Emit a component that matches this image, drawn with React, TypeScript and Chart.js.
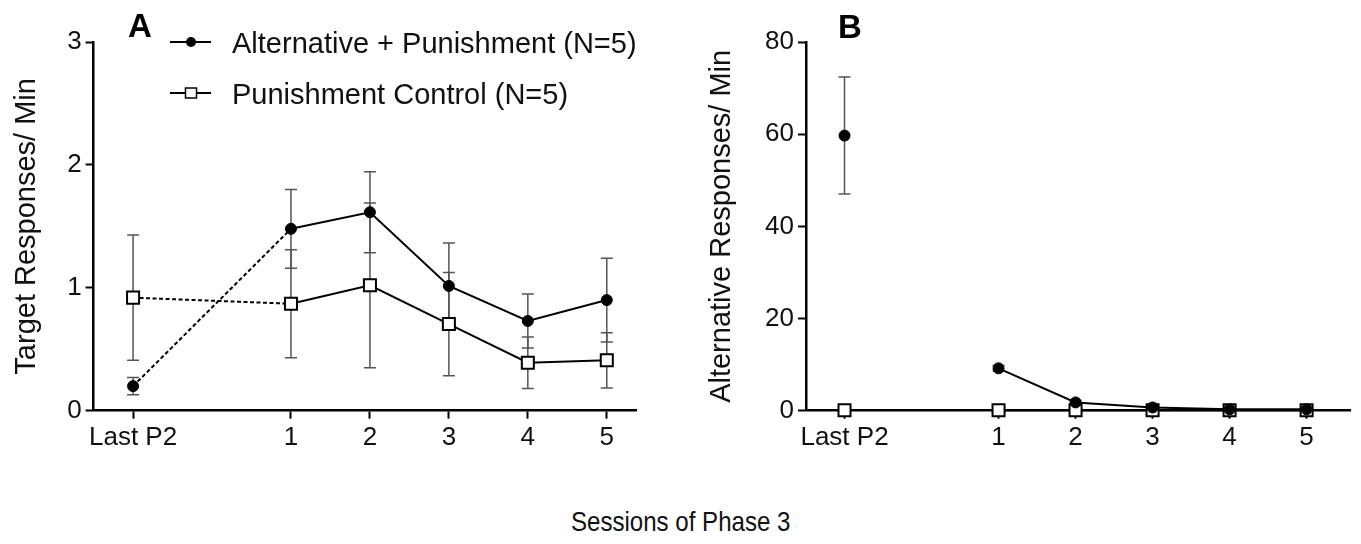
import React, { useEffect, useRef } from "react";
import { Chart, registerables } from "chart.js";

Chart.register(...registerables);

// ---- data ----
const sessions = ["Last P2", "1", "2", "3", "4", "5"];
const sessionX = [-1, 1, 2, 3, 4, 5];

const seriesNames = ["Alternative + Punishment (N=5)", "Punishment Control (N=5)"];

// Panel A: target responses / min (mean, SEM)
const targetAltPun = [0.2, 1.48, 1.615, 1.015, 0.73, 0.9];
const targetAltPunSem = [0.07, 0.32, 0.33, 0.35, 0.22, 0.34];
const targetPunCtrl = [0.92, 0.87, 1.02, 0.705, 0.39, 0.41];
const targetPunCtrlSem = [0.51, 0.44, 0.67, 0.42, 0.21, 0.225];

// Panel B: alternative responses / min (mean, SEM)
const altAltPun = [59.7, 9.2, 1.8, 0.7, 0.3, 0.3];
const altAltPunSem = [12.7, 0.6, 0.4, 0.3, 0.2, 0.2];
const altPunCtrl = [0.1, 0.1, 0.1, 0.1, 0.1, 0.1];
const altPunCtrlSem = [0.9, 0.9, 0.9, 0.9, 0.9, 0.9];

const FONT = '"Liberation Sans", Arial, Helvetica, sans-serif';

function pts(vals: number[]) {
  return sessionX.map((x, i) => ({ x, y: vals[i] }));
}

const errorBarPlugin = {
  id: "errorBars",
  beforeDatasetsDraw(chart: any) {
    const { ctx } = chart;
    const xs = chart.scales.x;
    const ys = chart.scales.y;
    ctx.save();
    ctx.strokeStyle = "#555";
    ctx.lineWidth = 1.5;
    chart.data.datasets.forEach((ds: any) => {
      if (!ds.sem) return;
      ds.data.forEach((p: any, i: number) => {
        const x = xs.getPixelForValue(p.x);
        const yt = ys.getPixelForValue(p.y + ds.sem[i]);
        const yb = ys.getPixelForValue(p.y - ds.sem[i]);
        ctx.beginPath();
        ctx.moveTo(x, yt);
        ctx.lineTo(x, yb);
        ctx.moveTo(x - 6, yt);
        ctx.lineTo(x + 6, yt);
        ctx.moveTo(x - 6, yb);
        ctx.lineTo(x + 6, yb);
        ctx.stroke();
      });
    });
    ctx.restore();
  },
};

function panelLabelPlugin(text: string, x: number, baseline: number) {
  return {
    id: "panelLabel" + text,
    afterDraw(chart: any) {
      const { ctx } = chart;
      ctx.save();
      ctx.fillStyle = "#000";
      ctx.font = `bold 33px ${FONT}`;
      ctx.textAlign = "left";
      ctx.textBaseline = "alphabetic";
      ctx.fillText(text, x, baseline);
      ctx.restore();
    },
  };
}

const legendPlugin = {
  id: "customLegend",
  afterDraw(chart: any) {
    const { ctx } = chart;
    const rows = [42, 93];
    ctx.save();
    rows.forEach((y, i) => {
      ctx.strokeStyle = "#000";
      ctx.lineWidth = 2;
      ctx.beginPath();
      ctx.moveTo(170, y);
      ctx.lineTo(211, y);
      ctx.stroke();
      if (i === 0) {
        ctx.fillStyle = "#000";
        ctx.beginPath();
        ctx.arc(191, y, 5, 0, Math.PI * 2);
        ctx.fill();
      } else {
        ctx.fillStyle = "#fff";
        ctx.fillRect(185.5, y - 5, 11, 10);
        ctx.lineWidth = 1.5;
        ctx.strokeRect(185.5, y - 5, 11, 10);
      }
      ctx.fillStyle = "#111";
      ctx.font = `29px ${FONT}`;
      ctx.textAlign = "left";
      ctx.textBaseline = "alphabetic";
      ctx.fillText(seriesNames[i], 232, y + 10.5);
    });
    ctx.restore();
  },
};

function makeConfig(opts: {
  alt: number[];
  altSem: number[];
  ctrl: number[];
  ctrlSem: number[];
  yMax: number;
  yStep: number;
  yTitle: string;
  xMax: number;
  yAxisWidth: number;
  titlePad: number;
  padRight: number;
  canvasH: number;
  firstSegment: "dashed" | "none";
  plugins: any[];
}): any {
  const seg = (c: any) => c.p0DataIndex === 0;
  const segment =
    opts.firstSegment === "dashed"
      ? { borderDash: (c: any) => (seg(c) ? [4, 2.5] : undefined) }
      : { borderColor: (c: any) => (seg(c) ? "rgba(0,0,0,0)" : "#000") };
  return {
    type: "line",
    data: {
      datasets: [
        {
          label: seriesNames[0],
          data: pts(opts.alt),
          sem: opts.altSem,
          borderColor: "#000",
          borderWidth: 2,
          backgroundColor: "#000",
          pointStyle: "circle",
          pointRadius: 5.5,
          pointBorderWidth: 1,
          pointBackgroundColor: "#000",
          pointBorderColor: "#000",
          segment,
          clip: false,
          order: 1,
        },
        {
          label: seriesNames[1],
          data: pts(opts.ctrl),
          sem: opts.ctrlSem,
          borderColor: "#000",
          borderWidth: 2,
          backgroundColor: "#fff",
          pointStyle: "rect",
          pointRadius: 8.5,
          pointBorderWidth: 2,
          pointBackgroundColor: "#fff",
          pointBorderColor: "#000",
          segment,
          clip: false,
          order: 2,
        },
      ],
    },
    options: {
      responsive: false,
      animation: false,
      devicePixelRatio: 1,
      layout: { padding: { top: 42, right: opts.padRight, left: 0, bottom: 0 } },
      plugins: { legend: { display: false }, tooltip: { enabled: false } },
      scales: {
        x: {
          type: "linear",
          min: -1.5,
          max: opts.xMax,
          afterBuildTicks: (s: any) => {
            s.ticks = sessionX.map((v) => ({ value: v }));
          },
          afterFit: (s: any) => {
            s.height = opts.canvasH - 410.7;
          },
          ticks: {
            autoSkip: false,
            maxRotation: 0,
            padding: 4,
            color: "#111",
            font: { family: FONT, size: 26 },
            callback: (v: number) => sessions[sessionX.indexOf(v)] ?? "",
          },
          grid: {
            drawOnChartArea: false,
            drawTicks: true,
            tickLength: 8,
            tickWidth: 2,
            tickColor: "#000",
          },
          border: { display: true, color: "#000", width: 2.5 },
        },
        y: {
          min: 0,
          max: opts.yMax,
          afterFit: (s: any) => {
            s.width = opts.yAxisWidth;
          },
          ticks: {
            stepSize: opts.yStep,
            padding: 4,
            color: "#111",
            font: { family: FONT, size: 26 },
          },
          grid: {
            drawOnChartArea: false,
            drawTicks: true,
            tickLength: 8,
            tickWidth: 2,
            tickColor: "#000",
          },
          border: { display: true, color: "#000", width: 2.5 },
          title: {
            display: true,
            text: opts.yTitle,
            color: "#111",
            font: { family: FONT, size: 29 },
            padding: { top: opts.titlePad, bottom: 0 },
          },
        },
      },
    },
    plugins: [errorBarPlugin, ...opts.plugins],
  };
}

export default function App() {
  const refA = useRef<HTMLCanvasElement>(null);
  const refB = useRef<HTMLCanvasElement>(null);

  useEffect(() => {
    const H = 470;
    const a = new Chart(
      refA.current!,
      makeConfig({
        alt: targetAltPun,
        altSem: targetAltPunSem,
        ctrl: targetPunCtrl,
        ctrlSem: targetPunCtrlSem,
        yMax: 3,
        yStep: 1,
        yTitle: "Target Responses/ Min",
        xMax: 5.37,
        yAxisWidth: 93.6,
        titlePad: 10,
        padRight: 44,
        canvasH: H,
        firstSegment: "dashed",
        plugins: [legendPlugin, panelLabelPlugin("A", 128, 37.3)],
      })
    );
    const b = new Chart(
      refB.current!,
      makeConfig({
        alt: altAltPun,
        altSem: altAltPunSem,
        ctrl: altPunCtrl,
        ctrlSem: altPunCtrlSem,
        yMax: 80,
        yStep: 20,
        yTitle: "Alternative Responses/ Min",
        xMax: 5.57,
        yAxisWidth: 126,
        titlePad: 25,
        padRight: 0,
        canvasH: H,
        firstSegment: "none",
        plugins: [panelLabelPlugin("B", 158, 37.5)],
      })
    );
    return () => {
      a.destroy();
      b.destroy();
    };
  }, []);

  return (
    <div style={{ position: "fixed", left: 0, top: 0, width: 1361, height: 544, background: "#fff" }}>
      <canvas ref={refA} width={680} height={470} style={{ position: "absolute", left: 0, top: 0 }} />
      <canvas ref={refB} width={681} height={470} style={{ position: "absolute", left: 680, top: 0 }} />
      <div
        style={{
          position: "absolute",
          left: 0,
          top: 505,
          width: 1361,
          textAlign: "center",
          fontFamily: FONT,
          fontSize: 28,
          lineHeight: "34px",
          color: "#111",
          transform: "scaleX(0.86)",
          transformOrigin: "682px 50%",
        }}
      >
        Sessions of Phase 3
      </div>
    </div>
  );
}
